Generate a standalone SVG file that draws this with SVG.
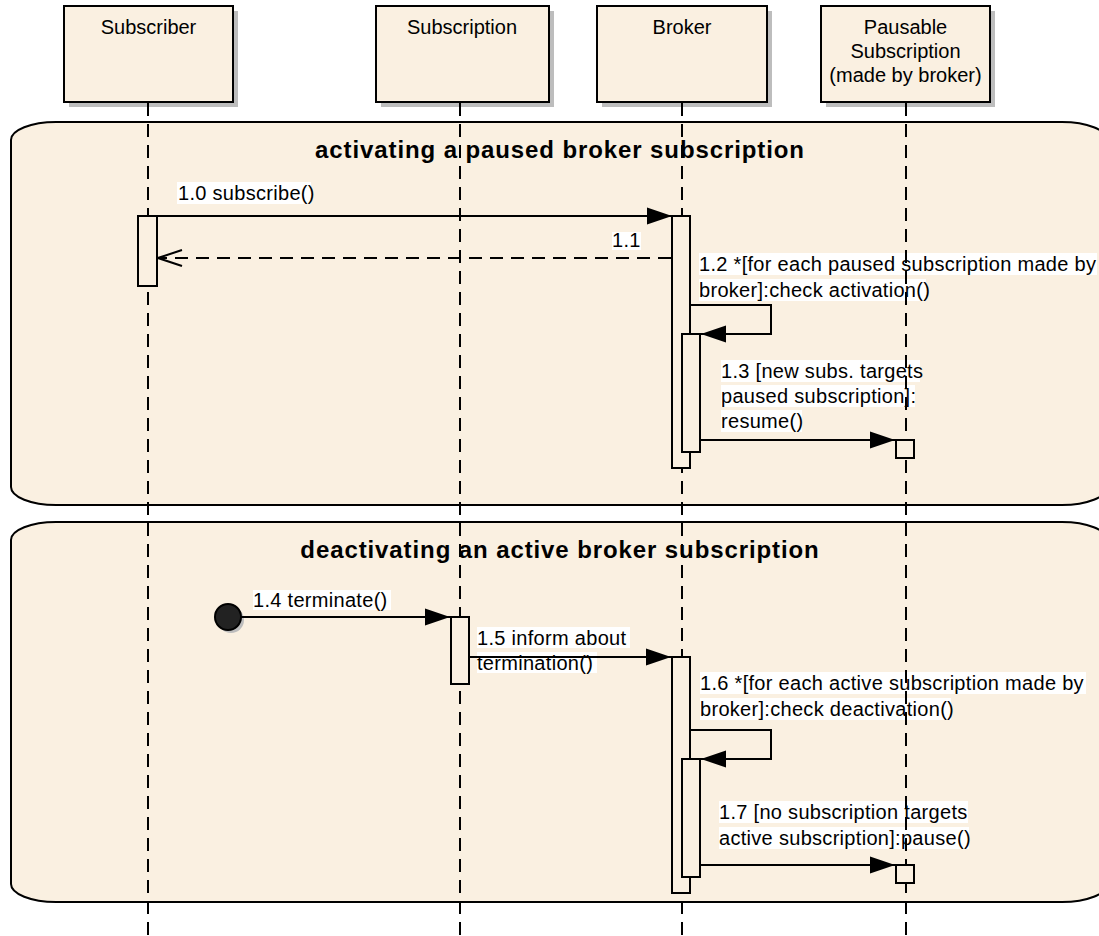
<svg xmlns="http://www.w3.org/2000/svg" width="1099" height="936" viewBox="0 0 1099 936">
  <style>
    .head { fill: #FAF0E1; stroke: #000; stroke-width: 2; }
    .shadow { fill: #BDBDBD; stroke: none; }
    .frame { fill: #FAF0E1; stroke: #000; stroke-width: 2; }
    .life { stroke: #000; stroke-width: 2; stroke-dasharray: 13 8; fill: none; }
    .act { fill: #FAF0E1; stroke: #000; stroke-width: 2; }
    .msg { stroke: #000; stroke-width: 2; fill: none; }
    .ret { stroke: #000; stroke-width: 2; fill: none; stroke-dasharray: 13 8; }
    .lbg { fill: #FFFFFF; }
    text { font-family: "Liberation Sans", Arial, sans-serif; font-size: 20px; fill: #000; }
    .lbl { letter-spacing: 0.3px; }
    .title { font-size: 24px; font-weight: bold; letter-spacing: 0.9px; text-anchor: middle; }
    .hd { text-anchor: middle; }
  </style>
  <defs>
    <marker id="fill" markerUnits="userSpaceOnUse" markerWidth="26" markerHeight="18" refX="25" refY="9" orient="auto">
      <path d="M0,0.5 L25,9 L0,17.5 Z" fill="#000"/>
    </marker>
    <marker id="open" markerUnits="userSpaceOnUse" markerWidth="28" markerHeight="20" refX="26" refY="10" orient="auto">
      <path d="M2,2 L26,10 L2,18" fill="none" stroke="#000" stroke-width="2"/>
    </marker>
  </defs>

  <!-- combined fragments -->
  <g id="fragment-activate">
    <rect class="frame" x="11" y="122" width="1096" height="383" rx="45" ry="18"/>
    <text class="title" x="560" y="158">activating a paused broker subscription</text>
  </g>
  <g id="fragment-deactivate">
    <rect class="frame" x="11" y="522" width="1096" height="380" rx="45" ry="18"/>
    <text class="title" x="560" y="558">deactivating an active broker subscription</text>
  </g>

  <!-- message labels -->
  <g id="labels">
    <rect class="lbg" x="177" y="182" width="134" height="22"/>
    <text class="lbl" x="178" y="200">1.0 subscribe()</text>

    <rect class="lbg" x="612" y="232" width="29" height="18"/>
    <text class="lbl" x="612" y="247">1.1</text>

    <rect class="lbg" x="699" y="253" width="398" height="22"/>
    <rect class="lbg" x="699" y="279" width="227" height="22"/>
    <text class="lbl" x="699" y="271">1.2 *[for each paused subscription made by</text>
    <text class="lbl" x="699" y="297">broker]:check activation()</text>

    <rect class="lbg" x="721" y="360" width="199" height="22"/>
    <rect class="lbg" x="721" y="385" width="194" height="22"/>
    <rect class="lbg" x="721" y="410" width="81" height="22"/>
    <text class="lbl" x="721" y="378">1.3 [new subs. targets</text>
    <text class="lbl" x="721" y="403">paused subscription]:</text>
    <text class="lbl" x="721" y="428">resume()</text>

    <rect class="lbg" x="253" y="590" width="138" height="20"/>
    <text class="lbl" x="253" y="607">1.4 terminate()</text>

    <rect class="lbg" x="477" y="627" width="153" height="21"/>
    <rect class="lbg" x="477" y="652" width="120" height="21"/>
    <text class="lbl" x="477" y="645">1.5 inform about</text>
    <text class="lbl" x="477" y="670">termination()</text>

    <rect class="lbg" x="700" y="672" width="386" height="22"/>
    <rect class="lbg" x="700" y="698" width="251" height="22"/>
    <text class="lbl" x="700" y="690">1.6 *[for each active subscription made by</text>
    <text class="lbl" x="700" y="716">broker]:check deactivation()</text>

    <rect class="lbg" x="719" y="801" width="249" height="22"/>
    <rect class="lbg" x="719" y="827" width="250" height="22"/>
    <text class="lbl" x="719" y="819">1.7 [no subscription targets</text>
    <text class="lbl" x="719" y="845">active subscription]:pause()</text>
  </g>

  <!-- lifelines -->
  <g id="subscriber">
    <rect class="shadow" x="69" y="11" width="169" height="96"/>
    <rect class="head" x="64" y="6" width="169" height="96"/>
    <text class="hd" x="148.5" y="34">Subscriber</text>
    <line class="life" x1="148" y1="103" x2="148" y2="936"/>
  </g>
  <g id="subscription">
    <rect class="shadow" x="381" y="11" width="173" height="96"/>
    <rect class="head" x="376" y="6" width="173" height="96"/>
    <text class="hd" x="462" y="34">Subscription</text>
    <line class="life" x1="460" y1="103" x2="460" y2="936"/>
  </g>
  <g id="broker">
    <rect class="shadow" x="602" y="11" width="170" height="96"/>
    <rect class="head" x="597" y="6" width="170" height="96"/>
    <text class="hd" x="682" y="34">Broker</text>
    <line class="life" x1="682" y1="103" x2="682" y2="936"/>
  </g>
  <g id="pausable-subscription">
    <rect class="shadow" x="826" y="11" width="169" height="96"/>
    <rect class="head" x="821" y="6" width="169" height="96"/>
    <text class="hd" x="905.5" y="34">Pausable</text>
    <text class="hd" x="905.5" y="58">Subscription</text>
    <text class="hd" x="905.5" y="82">(made by broker)</text>
    <line class="life" x1="906" y1="103" x2="906" y2="936"/>
  </g>

  <!-- activation bars -->
  <g id="activations">
    <rect class="act" x="138" y="216" width="19" height="70"/>
    <rect class="act" x="672" y="216" width="18" height="252"/>
    <rect class="act" x="682" y="334" width="18" height="118"/>
    <rect class="act" x="896" y="440" width="18" height="18"/>
    <rect class="act" x="451" y="617" width="18" height="67"/>
    <rect class="act" x="672" y="657" width="18" height="236"/>
    <rect class="act" x="682" y="759" width="18" height="118"/>
    <rect class="act" x="896" y="865" width="18" height="18"/>
  </g>

  <!-- initial node -->
  <g id="start">
    <circle cx="231" cy="620" r="13" fill="#BDBDBD"/>
    <circle cx="228" cy="617" r="13" fill="#222" stroke="#000" stroke-width="2"/>
  </g>

  <!-- messages -->
  <g id="connectors">
    <line class="msg" x1="157" y1="216" x2="672" y2="216" marker-end="url(#fill)"/>
    <line class="ret" x1="671" y1="258" x2="158" y2="258" marker-end="url(#open)"/>
    <polyline class="msg" points="691,305 771,305 771,334 701,334" marker-end="url(#fill)"/>
    <line class="msg" x1="701" y1="440" x2="895" y2="440" marker-end="url(#fill)"/>
    <line class="msg" x1="241" y1="617" x2="450" y2="617" marker-end="url(#fill)"/>
    <line class="msg" x1="470" y1="657" x2="671" y2="657" marker-end="url(#fill)"/>
    <polyline class="msg" points="691,730 771,730 771,759 701,759" marker-end="url(#fill)"/>
    <line class="msg" x1="701" y1="865" x2="895" y2="865" marker-end="url(#fill)"/>
  </g>
</svg>
